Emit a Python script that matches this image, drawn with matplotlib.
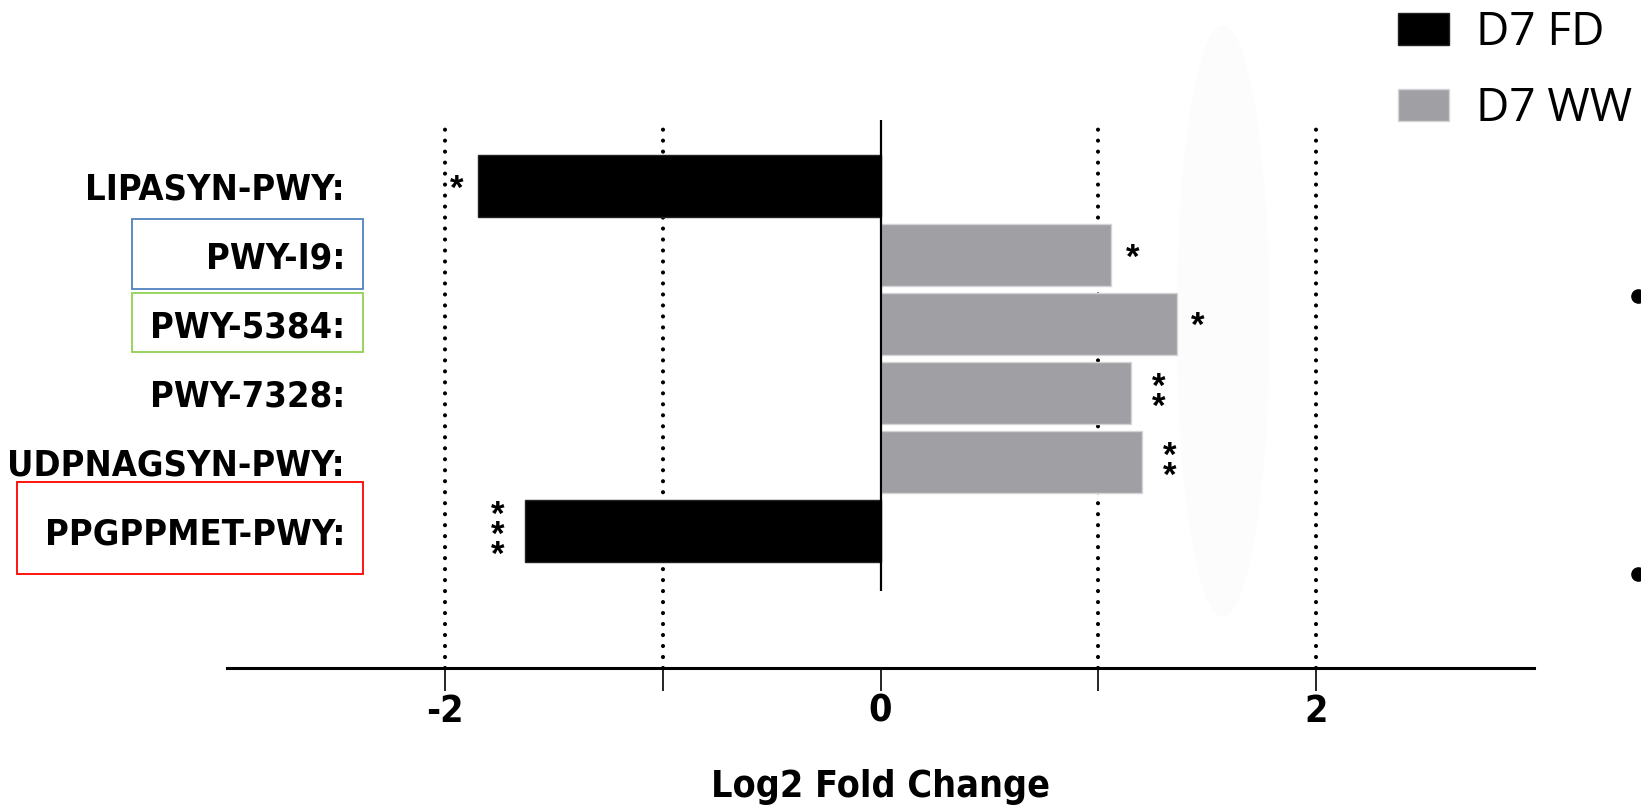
import matplotlib
matplotlib.use('Agg')
import matplotlib.pyplot as plt
from matplotlib.patches import Rectangle, Ellipse
from matplotlib.lines import Line2D

# pathway log2 fold changes at day 7
pathways = ['LIPASYN-PWY:', 'PWY-I9:', 'PWY-5384:', 'PWY-7328:',
            'UDPNAGSYN-PWY:', 'PPGPPMET-PWY:']
log2fc = [-1.85, 1.06, 1.36, 1.15, 1.20, -1.63]
groups = ['D7 FD', 'D7 WW', 'D7 WW', 'D7 WW', 'D7 WW', 'D7 FD']
stars = ['*', '*', '*', '**', '**', '***']

x_ticks = [-2, -1, 0, 1, 2]
x_ticklabels = ['-2', '', '0', '', '2']
dotted_at = [-2, -1, 1, 2]

colors = {'D7 FD': '#000000', 'D7 WW': '#a09fa4'}
edges = {'D7 FD': '#222222', 'D7 WW': '#d4d4d6'}

plt.rcParams['lines.scale_dashes'] = False
narrow = {'family': 'DejaVu Sans', 'stretch': 'condensed', 'weight': 'bold'}

W, H = 1641, 810
fig = plt.figure(figsize=(W / 100, H / 100), dpi=100)


def px(x, y):
    return x / W, 1 - y / H


# faint backdrop shape behind the right side
fig.add_artist(Ellipse(px(1223, 321), 93 / W, 592 / H, facecolor='#fcfcfc',
                       edgecolor='none', transform=fig.transFigure, zorder=0))

ax = fig.add_axes([227 / W, 1 - 668 / H, (1534 - 227) / W, (668 - 120) / H])
ax.patch.set_visible(False)

rows = list(range(len(pathways)))
for g in ['D7 FD', 'D7 WW']:
    idx = [i for i in rows if groups[i] == g]
    ax.barh(idx, [log2fc[i] for i in idx], height=0.9, color=colors[g],
            edgecolor=edges[g], linewidth=1, label=g, zorder=3)

ax.set_xlim(-3, 3)
ax.set_ylim(6.99, -0.96)

for x in dotted_at:
    ax.axvline(x, color='black', lw=3.0, linestyle=(0, (0.01, 7.9)),
               dash_capstyle='round', zorder=1)
ax.vlines(0, -0.96, 5.88, color='black', lw=1.6, zorder=4)

# significance stars, stacked when there is more than one
for i, (v, s) in enumerate(zip(log2fc, stars)):
    sign = 1 if v > 0 else -1
    multi = len(s) > 1
    gap = 20 if multi else 15
    ax.annotate('\n'.join(s), (v, i), xytext=(sign * gap, -3 if multi else -2),
                textcoords='offset points', ha='center', va='center',
                linespacing=0.5, fontsize=25, fontweight='bold',
                family='Liberation Sans')

for side in ['left', 'top', 'right']:
    ax.spines[side].set_visible(False)
ax.spines['bottom'].set_linewidth(2.2)

ax.set_xticks(x_ticks, x_ticklabels)
ax.tick_params(axis='x', length=16.5, width=1.2, pad=2, labelsize=27)
ax.set_yticks(rows, pathways)
ax.tick_params(axis='y', length=0, pad=-85, labelsize=26)
for lab in ax.get_xticklabels() + ax.get_yticklabels():
    lab.set_family(narrow['family'])
    lab.set_stretch(narrow['stretch'])
    lab.set_fontweight('bold')

ax.set_xlabel('Log2 Fold Change', fontsize=27, labelpad=28, **narrow)

# coloured outlines around selected pathway names
for (x0, y0, x1, y1), c in [((132, 219, 363, 289), '#4f81bd'),
                            ((132, 293, 363, 352), '#92d050'),
                            ((17, 482, 363, 574), '#ff0000')]:
    fig.add_artist(Rectangle(px(x0, y1), (x1 - x0) / W, (y1 - y0) / H,
                             fill=False, edgecolor=c, linewidth=1.3,
                             transform=fig.transFigure, zorder=5))

ax.legend(loc='upper left', bbox_to_anchor=px(1398, 10),
          bbox_transform=fig.transFigure, frameon=False,
          prop={'family': 'Open Sans', 'size': 33},
          handlelength=1.11, handleheight=0.70, handletextpad=0.6,
          borderpad=0, borderaxespad=0, labelspacing=0.65)

# bullet marks at the right edge
for y in [296, 574]:
    fig.add_artist(Line2D([1638 / W], [1 - y / H], marker='o', markersize=9.5,
                          color='black', linestyle='none',
                          transform=fig.transFigure))

fig.savefig('out.png', dpi=100)
